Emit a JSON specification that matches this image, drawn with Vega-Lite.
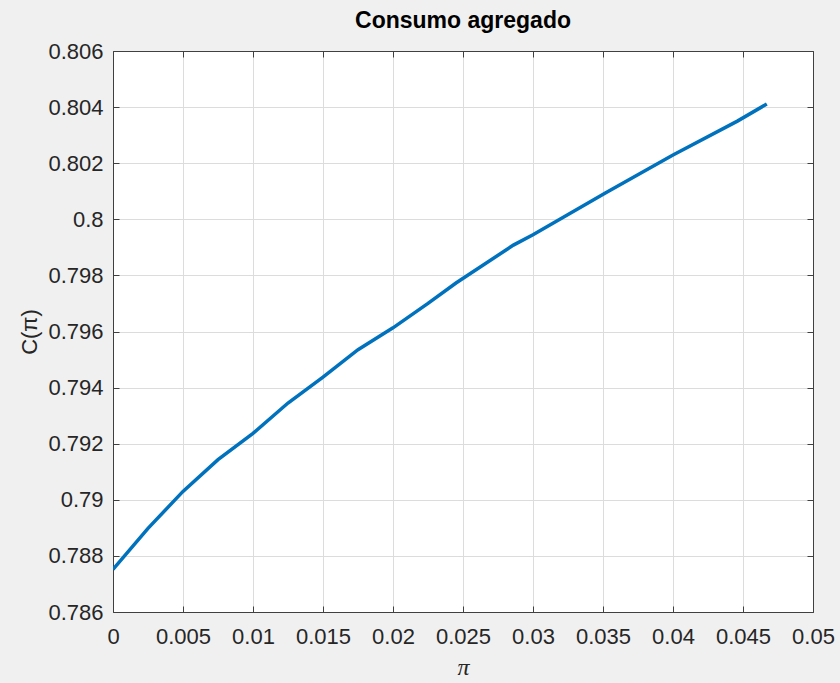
{
  "$schema": "https://vega.github.io/schema/vega-lite/v6.json",
  "width": 700,
  "height": 561,
  "autosize": {"type": "none"},
  "padding": {"left": 113, "top": 51, "right": 27, "bottom": 71},
  "background": "#f0f0f0",
  "config": {
    "view": {"fill": "white", "stroke": null},
    "font": "Liberation Sans",
    "axis": {
      "domainColor": "#404040",
      "domainWidth": 1,
      "tickColor": "#404040",
      "tickSize": -6,
      "gridColor": "#dcdcdc",
      "gridWidth": 1,
      "labelFont": "Liberation Sans",
      "labelFontSize": 22,
      "labelColor": "#262626",
      "titleColor": "#262626",
      "titleFontWeight": "normal"
    }
  },
  "title": {
    "text": "Consumo agregado",
    "font": "Liberation Sans",
    "fontSize": 23,
    "fontWeight": "bold",
    "color": "#000000",
    "anchor": "middle",
    "offset": 7
  },
  "data": {
    "values": [
      {"pi": 0.0, "C": 0.78752},
      {"pi": 0.0025, "C": 0.78898},
      {"pi": 0.005, "C": 0.79030},
      {"pi": 0.0075, "C": 0.79143},
      {"pi": 0.01, "C": 0.79237},
      {"pi": 0.0125, "C": 0.79345},
      {"pi": 0.015, "C": 0.79437},
      {"pi": 0.0175, "C": 0.79535},
      {"pi": 0.02, "C": 0.79613},
      {"pi": 0.0225, "C": 0.79700},
      {"pi": 0.0245, "C": 0.79773},
      {"pi": 0.0286, "C": 0.79908},
      {"pi": 0.03, "C": 0.79945},
      {"pi": 0.0352, "C": 0.80095},
      {"pi": 0.04, "C": 0.80229},
      {"pi": 0.0446, "C": 0.80350},
      {"pi": 0.0467, "C": 0.80411}
    ]
  },
  "layer": [
    {
      "mark": {"type": "line", "color": "#0072BD", "strokeWidth": 3.5, "clip": true},
      "encoding": {
        "x": {
          "field": "pi",
          "type": "quantitative",
          "scale": {"domain": [0, 0.05], "nice": false},
          "axis": {
            "values": [0, 0.005, 0.01, 0.015, 0.02, 0.025, 0.03, 0.035, 0.04, 0.045, 0.05],
            "format": "~g",
            "labelPadding": 20,
            "labelFlush": false,
            "labelOverlap": false,
            "title": "π",
            "titleFont": "Liberation Serif",
            "titleFontSize": 24,
            "titleFontStyle": "italic",
            "titlePadding": 8
          }
        },
        "y": {
          "field": "C",
          "type": "quantitative",
          "scale": {"domain": [0.786, 0.806], "nice": false, "zero": false},
          "axis": {
            "values": [0.786, 0.788, 0.79, 0.792, 0.794, 0.796, 0.798, 0.8, 0.802, 0.804, 0.806],
            "format": "~g",
            "labelPadding": 16,
            "labelFlush": false,
            "labelOverlap": false,
            "title": "C(π)",
            "titleFontSize": 22,
            "titlePadding": 6
          }
        }
      }
    },
    {
      "mark": {"type": "line", "opacity": 0},
      "encoding": {
        "x": {
          "field": "pi",
          "type": "quantitative",
          "axis": {
            "orient": "top",
            "values": [0, 0.005, 0.01, 0.015, 0.02, 0.025, 0.03, 0.035, 0.04, 0.045, 0.05],
            "labels": false,
            "grid": false,
            "title": null
          }
        },
        "y": {
          "field": "C",
          "type": "quantitative",
          "axis": {
            "orient": "right",
            "values": [0.786, 0.788, 0.79, 0.792, 0.794, 0.796, 0.798, 0.8, 0.802, 0.804, 0.806],
            "labels": false,
            "grid": false,
            "title": null
          }
        }
      }
    }
  ],
  "resolve": {"axis": {"x": "independent", "y": "independent"}}
}
